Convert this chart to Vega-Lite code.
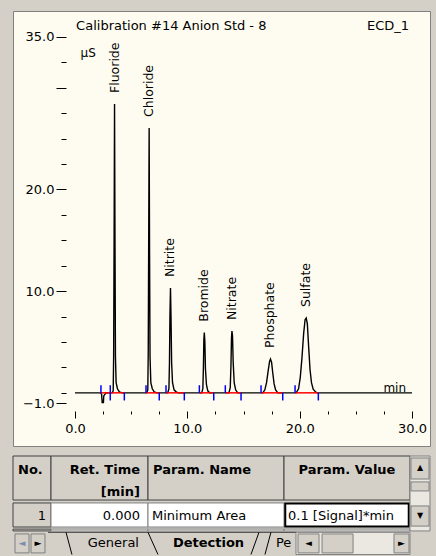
{
  "$schema": "https://vega.github.io/schema/vega-lite/v6.json",
  "background": "#d4d0c8",
  "padding": {"left": 12, "top": 10, "right": 7, "bottom": 3},
  "autosize": {"type": "pad"},
  "spacing": 2,
  "config": {
    "view": {"stroke": null},
    "font": "DejaVu Sans",
    "text": {"font": "DejaVu Sans", "color": "#000000"}
  },
  "datasets": {
    "trace": [
      {"t": 0, "s": 0}, {"t": 2.30, "s": 0}, {"t": 2.37, "s": -0.15}, {"t": 2.42, "s": -0.95}, {"t": 2.53, "s": -0.95}, {"t": 2.56, "s": -0.3}, {"t": 2.66, "s": -0.15}, {"t": 2.78, "s": 0},
      {"t": 3.30, "s": 0}, {"t": 3.40, "s": 0.2}, {"t": 3.44, "s": 3.6}, {"t": 3.48, "s": 15}, {"t": 3.52, "s": 28.41}, {"t": 3.56, "s": 15}, {"t": 3.60, "s": 3.6}, {"t": 3.66, "s": 1.0}, {"t": 3.78, "s": 0.4}, {"t": 3.95, "s": 0.1}, {"t": 4.20, "s": 0},
      {"t": 6.38, "s": 0}, {"t": 6.48, "s": 0.3}, {"t": 6.52, "s": 4}, {"t": 6.56, "s": 15}, {"t": 6.60, "s": 26.05}, {"t": 6.64, "s": 13}, {"t": 6.68, "s": 3.5}, {"t": 6.75, "s": 1.0}, {"t": 6.88, "s": 0.4}, {"t": 7.05, "s": 0.1}, {"t": 7.30, "s": 0},
      {"t": 8.25, "s": 0}, {"t": 8.36, "s": 0.4}, {"t": 8.41, "s": 3}, {"t": 8.45, "s": 7.5}, {"t": 8.50, "s": 10.31}, {"t": 8.55, "s": 7.2}, {"t": 8.60, "s": 3}, {"t": 8.68, "s": 1.0}, {"t": 8.82, "s": 0.3}, {"t": 9.00, "s": 0.1}, {"t": 9.20, "s": 0},
      {"t": 11.28, "s": 0}, {"t": 11.38, "s": 0.4}, {"t": 11.43, "s": 2.5}, {"t": 11.47, "s": 5.2}, {"t": 11.51, "s": 5.92}, {"t": 11.56, "s": 5.0}, {"t": 11.61, "s": 2.4}, {"t": 11.70, "s": 0.8}, {"t": 11.82, "s": 0.2}, {"t": 11.98, "s": 0},
      {"t": 13.70, "s": 0}, {"t": 13.82, "s": 0.5}, {"t": 13.88, "s": 2.6}, {"t": 13.93, "s": 5.4}, {"t": 13.97, "s": 6.08}, {"t": 14.02, "s": 5.6}, {"t": 14.08, "s": 3.0}, {"t": 14.17, "s": 1.0}, {"t": 14.30, "s": 0.3}, {"t": 14.48, "s": 0},
      {"t": 16.72, "s": 0}, {"t": 16.90, "s": 0.3}, {"t": 17.05, "s": 1.0}, {"t": 17.20, "s": 2.2}, {"t": 17.32, "s": 3.1}, {"t": 17.40, "s": 3.33}, {"t": 17.50, "s": 3.0}, {"t": 17.60, "s": 2.0}, {"t": 17.72, "s": 0.9}, {"t": 17.85, "s": 0.3}, {"t": 18.05, "s": 0},
      {"t": 19.68, "s": 0}, {"t": 19.90, "s": 0.4}, {"t": 20.05, "s": 1.5}, {"t": 20.20, "s": 3.4}, {"t": 20.35, "s": 5.8}, {"t": 20.48, "s": 7.2}, {"t": 20.58, "s": 7.36}, {"t": 20.68, "s": 6.8}, {"t": 20.80, "s": 4.5}, {"t": 20.92, "s": 2.3}, {"t": 21.05, "s": 1.0}, {"t": 21.20, "s": 0.35}, {"t": 21.40, "s": 0.1}, {"t": 21.55, "s": 0},
      {"t": 30, "s": 0}
    ],
    "peaks": [
      {"peak": "Fluoride", "rt": 3.52, "height": 28.41},
      {"peak": "Chloride", "rt": 6.60, "height": 26.05},
      {"peak": "Nitrite", "rt": 8.50, "height": 10.31},
      {"peak": "Bromide", "rt": 11.51, "height": 5.92},
      {"peak": "Nitrate", "rt": 13.97, "height": 6.08},
      {"peak": "Phosphate", "rt": 17.40, "height": 3.33},
      {"peak": "Sulfate", "rt": 20.58, "height": 7.36}
    ],
    "windows": [
      {"start": 2.31, "end": 3.14},
      {"start": 3.14, "end": 4.39},
      {"start": 6.32, "end": 7.50},
      {"start": 8.10, "end": 9.73},
      {"start": 11.07, "end": 12.35},
      {"start": 13.38, "end": 14.78},
      {"start": 16.56, "end": 18.49},
      {"start": 19.59, "end": 21.66}
    ]
  },
  "vconcat": [
    {
      "width": 417,
      "height": 435,
      "view": {"fill": "#fefcf0", "stroke": "#808080", "strokeWidth": 1},
      "resolve": {"axis": {"x": "independent", "y": "independent"}},
      "layer": [
        {
          "mark": {"type": "rect", "fillOpacity": 0, "stroke": "#a09c94", "strokeWidth": 2},
          "encoding": {"x": {"datum": -0.178, "axis": null}, "x2": {"datum": 30}, "y": {"datum": -1, "axis": null}, "y2": {"datum": 35}}
        },
        {
          "mark": {"type": "rule", "color": "#404040", "strokeWidth": 1.5},
          "encoding": {"x": {"datum": -0.178, "axis": null}, "y": {"datum": -1, "axis": null}, "y2": {"datum": 35}}
        },
        {
          "mark": {"type": "rule", "color": "#404040", "strokeWidth": 1.5},
          "encoding": {"x": {"datum": -0.178, "axis": null}, "x2": {"datum": 30}, "y": {"datum": 35, "axis": null}}
        },
        {
          "data": {"name": "trace"},
          "mark": {"type": "line", "color": "#000000", "strokeWidth": 1.4},
          "encoding": {
            "x": {
              "field": "t", "type": "quantitative",
              "scale": {"domain": [-5.519, 31.6], "nice": false, "zero": false},
              "axis": {
                "orient": "bottom", "offset": -35, "values": [0, 10, 20, 30], "format": ".1f",
                "tickSize": 7, "tickColor": "#000000", "domain": false, "grid": false,
                "labelColor": "#000000", "labelFont": "DejaVu Sans", "labelFontSize": 13, "labelPadding": 4,
                "labelFlush": false, "labelOverlap": false, "labelBound": false, "title": null
              }
            },
            "y": {
              "field": "s", "type": "quantitative",
              "scale": {"domain": [-5.229, 37.557], "nice": false, "zero": false},
              "axis": {
                "orient": "left", "offset": -53, "values": [-1, 10, 20, 30, 35],
                "labelExpr": "datum.value == 30 ? '' : format(datum.value, '.1f')",
                "tickSize": 10, "tickColor": "#000000", "domain": false, "grid": false,
                "labelColor": "#000000", "labelFont": "DejaVu Sans", "labelFontSize": 13, "labelPadding": 2,
                "labelFlush": false, "labelOverlap": false, "labelBound": false, "title": null
              }
            }
          }
        },
        {
          "data": {"name": "windows"},
          "mark": {"type": "rule", "color": "#ff0000", "strokeWidth": 1.5},
          "encoding": {
            "x": {
              "field": "start", "type": "quantitative",
              "axis": {
                "orient": "bottom", "offset": -35, "values": [2.5, 5, 7.5, 12.5, 15, 17.5, 22.5, 25, 27.5],
                "tickSize": 3, "tickColor": "#000000", "labels": false, "domain": false, "grid": false, "title": null
              }
            },
            "x2": {"field": "end"},
            "y": {
              "datum": 0,
              "axis": {
                "orient": "left", "offset": -53, "values": [0, 2.5, 5, 7.5, 12.5, 15, 17.5, 22.5, 25, 27.5, 32.5],
                "tickSize": 5, "tickColor": "#000000", "labels": false, "domain": false, "grid": false, "title": null
              }
            }
          }
        },
        {
          "data": {"name": "windows"},
          "mark": {"type": "rule", "color": "#0000ff", "strokeWidth": 1.5},
          "encoding": {"x": {"field": "start", "type": "quantitative", "axis": null}, "y": {"datum": 0, "axis": null}, "y2": {"datum": 0.75}}
        },
        {
          "data": {"name": "windows"},
          "mark": {"type": "rule", "color": "#0000ff", "strokeWidth": 1.5},
          "encoding": {"x": {"field": "end", "type": "quantitative", "axis": null}, "y": {"datum": 0, "axis": null}, "y2": {"datum": -0.75}}
        },
        {
          "data": {"name": "peaks"},
          "mark": {"type": "text", "angle": 270, "align": "left", "baseline": "middle", "dx": 11, "fontSize": 12.5, "color": "#000000"},
          "encoding": {
            "x": {"field": "rt", "type": "quantitative", "axis": null},
            "y": {"field": "height", "type": "quantitative", "axis": null},
            "text": {"field": "peak"}
          }
        },
        {
          "data": {"values": [{"label": "Calibration #14  Anion Std - 8"}]},
          "mark": {"type": "text", "align": "left", "baseline": "middle", "fontSize": 13, "color": "#000000"},
          "encoding": {"x": {"datum": 0.1, "axis": null}, "y": {"datum": 36.08, "axis": null}, "text": {"field": "label"}}
        },
        {
          "data": {"values": [{"label": "ECD_1"}]},
          "mark": {"type": "text", "align": "right", "baseline": "middle", "fontSize": 13, "color": "#000000"},
          "encoding": {"x": {"datum": 29.73, "axis": null}, "y": {"datum": 36.08, "axis": null}, "text": {"field": "label"}}
        },
        {
          "data": {"values": [{"label": "µS"}]},
          "mark": {"type": "text", "align": "left", "baseline": "middle", "fontSize": 12, "color": "#000000"},
          "encoding": {"x": {"datum": 0.5, "axis": null}, "y": {"datum": 33.43, "axis": null}, "text": {"field": "label"}}
        },
        {
          "data": {"values": [{"label": "min"}]},
          "mark": {"type": "text", "align": "right", "baseline": "middle", "fontSize": 12, "color": "#000000"},
          "encoding": {"x": {"datum": 29.47, "axis": null}, "y": {"datum": 0.47, "axis": null}, "text": {"field": "label"}}
        },
        {
          "mark": {"type": "rule", "color": "#000000", "strokeWidth": 1},
          "encoding": {"x": {"datum": -0.801, "axis": null}, "y": {"datum": -1, "axis": null}, "y2": {"datum": 35}}
        },
        {
          "mark": {"type": "rule", "color": "#000000", "strokeWidth": 1},
          "encoding": {"x": {"datum": 0, "axis": null}, "x2": {"datum": 30}, "y": {"datum": -1.787, "axis": null}}
        }
      ]
    },
    {
      "bounds": "flush",
      "spacing": 0,
      "hconcat": [
        {
          "width": 38, "height": 106,
          "data": {"values": [{"head": "No.", "val": "1", "l": "◄", "r": "►"}]},
          "layer": [
            {"mark": {"type": "rect", "fill": "#d4d0c8", "stroke": "#404040", "strokeWidth": 1},
             "encoding": {"x": {"datum": 0, "scale": {"domain": [0, 1], "nice": false, "zero": false}, "axis": null}, "x2": {"datum": 1},
                          "y": {"datum": 0, "scale": {"domain": [-0.303, 4.28], "reverse": true, "nice": false, "zero": false}, "axis": null}, "y2": {"datum": 1.903}}},
            {"mark": {"type": "rect", "fill": "#d4d0c8", "stroke": "#404040", "strokeWidth": 1},
             "encoding": {"x": {"datum": 0, "axis": null}, "x2": {"datum": 1}, "y": {"datum": 2.03, "axis": null}, "y2": {"datum": 3.07}}},
            {"mark": {"type": "rect", "fill": "#d4d0c8", "stroke": "#404040", "strokeWidth": 1},
             "encoding": {"x": {"datum": 0, "axis": null}, "x2": {"datum": 1}, "y": {"datum": 3.16, "axis": null}, "y2": {"datum": 3.24}}},
            {"mark": {"type": "rect", "fill": "#d4d0c8", "stroke": "#808080", "strokeWidth": 1},
             "encoding": {"x": {"datum": 0.053, "axis": null}, "x2": {"datum": 0.421}, "y": {"datum": 3.37, "axis": null}, "y2": {"datum": 4.19}}},
            {"mark": {"type": "rect", "fill": "#d4d0c8", "stroke": "#808080", "strokeWidth": 1},
             "encoding": {"x": {"datum": 0.474, "axis": null}, "x2": {"datum": 0.842}, "y": {"datum": 3.37, "axis": null}, "y2": {"datum": 4.19}}},
            {"mark": {"type": "rule", "color": "#404040", "strokeWidth": 1},
             "encoding": {"x": {"datum": 0.921, "axis": null}, "x2": {"datum": 1}, "y": {"datum": 3.3, "axis": null}}},
            {"mark": {"type": "text", "align": "left", "baseline": "middle", "dx": 5, "fontSize": 13, "fontWeight": "bold", "color": "#000000"},
             "encoding": {"x": {"datum": 0, "axis": null}, "y": {"datum": 0.6, "axis": null}, "text": {"field": "head"}}},
            {"mark": {"type": "text", "align": "right", "baseline": "middle", "dx": -5, "fontSize": 13, "color": "#000000"},
             "encoding": {"x": {"datum": 1, "axis": null}, "y": {"datum": 2.58, "axis": null}, "text": {"field": "val"}}},
            {"mark": {"type": "text", "align": "center", "baseline": "middle", "fontSize": 9, "color": "#7b8cb0"},
             "encoding": {"x": {"datum": 0.237, "axis": null}, "y": {"datum": 3.78, "axis": null}, "text": {"field": "l"}}},
            {"mark": {"type": "text", "align": "center", "baseline": "middle", "fontSize": 9, "color": "#000000"},
             "encoding": {"x": {"datum": 0.658, "axis": null}, "y": {"datum": 3.78, "axis": null}, "text": {"field": "r"}}}
          ]
        },
        {
          "width": 97, "height": 106,
          "data": {"values": [{"h1": "Ret. Time", "h2": "[min]", "val": "0.000", "tab": "General"}]},
          "layer": [
            {"mark": {"type": "rect", "fill": "#d4d0c8", "stroke": "#404040", "strokeWidth": 1},
             "encoding": {"x": {"datum": 0, "scale": {"domain": [0, 1], "nice": false, "zero": false}, "axis": null}, "x2": {"datum": 1},
                          "y": {"datum": 0, "scale": {"domain": [-0.303, 4.28], "reverse": true, "nice": false, "zero": false}, "axis": null}, "y2": {"datum": 1.903}}},
            {"mark": {"type": "rect", "fill": "#ffffff", "stroke": "#808080", "strokeWidth": 1},
             "encoding": {"x": {"datum": 0, "axis": null}, "x2": {"datum": 1}, "y": {"datum": 2.03, "axis": null}, "y2": {"datum": 3.07}}},
            {"mark": {"type": "rect", "fill": "#ffffff", "stroke": "#808080", "strokeWidth": 1},
             "encoding": {"x": {"datum": 0, "axis": null}, "x2": {"datum": 1}, "y": {"datum": 3.16, "axis": null}, "y2": {"datum": 3.24}}},
            {"mark": {"type": "rule", "color": "#404040", "strokeWidth": 1},
             "encoding": {"x": {"datum": 0, "axis": null}, "x2": {"datum": 1}, "y": {"datum": 3.3, "axis": null}}},
            {"mark": {"type": "rule", "color": "#000000", "strokeWidth": 1},
             "encoding": {"x": {"datum": 0.155, "axis": null}, "x2": {"datum": 0.216}, "y": {"datum": 3.3, "axis": null}, "y2": {"datum": 4.26}}},
            {"mark": {"type": "text", "align": "right", "baseline": "middle", "dx": -8, "fontSize": 13, "fontWeight": "bold", "color": "#000000"},
             "encoding": {"x": {"datum": 1, "axis": null}, "y": {"datum": 0.6, "axis": null}, "text": {"field": "h1"}}},
            {"mark": {"type": "text", "align": "right", "baseline": "middle", "dx": -8, "fontSize": 13, "fontWeight": "bold", "color": "#000000"},
             "encoding": {"x": {"datum": 1, "axis": null}, "y": {"datum": 1.55, "axis": null}, "text": {"field": "h2"}}},
            {"mark": {"type": "text", "align": "right", "baseline": "middle", "dx": -8, "fontSize": 13, "color": "#000000"},
             "encoding": {"x": {"datum": 1, "axis": null}, "y": {"datum": 2.58, "axis": null}, "text": {"field": "val"}}},
            {"mark": {"type": "text", "align": "right", "baseline": "middle", "fontSize": 13, "color": "#000000"},
             "encoding": {"x": {"datum": 0.907, "axis": null}, "y": {"datum": 3.75, "axis": null}, "text": {"field": "tab"}}}
          ]
        },
        {
          "width": 136, "height": 106,
          "data": {"values": [{"h1": "Param. Name", "val": "Minimum Area", "tab": "Detection", "tab2": "Pe"}]},
          "layer": [
            {"mark": {"type": "rect", "fill": "#d4d0c8", "stroke": "#404040", "strokeWidth": 1},
             "encoding": {"x": {"datum": 0, "scale": {"domain": [0, 1], "nice": false, "zero": false}, "axis": null}, "x2": {"datum": 1},
                          "y": {"datum": 0, "scale": {"domain": [-0.303, 4.28], "reverse": true, "nice": false, "zero": false}, "axis": null}, "y2": {"datum": 1.903}}},
            {"mark": {"type": "rect", "fill": "#ffffff", "stroke": "#808080", "strokeWidth": 1},
             "encoding": {"x": {"datum": 0, "axis": null}, "x2": {"datum": 1}, "y": {"datum": 2.03, "axis": null}, "y2": {"datum": 3.07}}},
            {"mark": {"type": "rect", "fill": "#ffffff", "stroke": "#808080", "strokeWidth": 1},
             "encoding": {"x": {"datum": 0, "axis": null}, "x2": {"datum": 1}, "y": {"datum": 3.16, "axis": null}, "y2": {"datum": 3.24}}},
            {"mark": {"type": "rule", "color": "#404040", "strokeWidth": 1},
             "encoding": {"x": {"datum": 0, "axis": null}, "x2": {"datum": 1}, "y": {"datum": 3.3, "axis": null}}},
            {"mark": {"type": "rule", "color": "#000000", "strokeWidth": 1},
             "encoding": {"x": {"datum": 0, "axis": null}, "x2": {"datum": 0.0735}, "y": {"datum": 3.3, "axis": null}, "y2": {"datum": 4.26}}},
            {"mark": {"type": "rule", "color": "#000000", "strokeWidth": 1},
             "encoding": {"x": {"datum": 0.816, "axis": null}, "x2": {"datum": 0.757}, "y": {"datum": 3.3, "axis": null}, "y2": {"datum": 4.26}}},
            {"mark": {"type": "rule", "color": "#000000", "strokeWidth": 1},
             "encoding": {"x": {"datum": 0.904, "axis": null}, "x2": {"datum": 0.86}, "y": {"datum": 3.3, "axis": null}, "y2": {"datum": 4.26}}},
            {"mark": {"type": "text", "align": "left", "baseline": "middle", "dx": 5, "fontSize": 13, "fontWeight": "bold", "color": "#000000"},
             "encoding": {"x": {"datum": 0, "axis": null}, "y": {"datum": 0.6, "axis": null}, "text": {"field": "h1"}}},
            {"mark": {"type": "text", "align": "left", "baseline": "middle", "dx": 4, "fontSize": 13, "color": "#000000"},
             "encoding": {"x": {"datum": 0, "axis": null}, "y": {"datum": 2.58, "axis": null}, "text": {"field": "val"}}},
            {"mark": {"type": "text", "align": "center", "baseline": "middle", "fontSize": 13, "fontWeight": "bold", "color": "#000000"},
             "encoding": {"x": {"datum": 0.445, "axis": null}, "y": {"datum": 3.75, "axis": null}, "text": {"field": "tab"}}},
            {"mark": {"type": "text", "align": "left", "baseline": "middle", "fontSize": 13, "color": "#000000"},
             "encoding": {"x": {"datum": 0.941, "axis": null}, "y": {"datum": 3.75, "axis": null}, "text": {"field": "tab2"}}}
          ]
        },
        {
          "width": 126, "height": 106,
          "data": {"values": [{"h1": "Param. Value", "val": "0.1 [Signal]*min", "l": "◄", "r": "►"}]},
          "layer": [
            {"mark": {"type": "rect", "fill": "#d4d0c8", "stroke": "#404040", "strokeWidth": 1},
             "encoding": {"x": {"datum": 0, "scale": {"domain": [0, 1], "nice": false, "zero": false}, "axis": null}, "x2": {"datum": 1},
                          "y": {"datum": 0, "scale": {"domain": [-0.303, 4.28], "reverse": true, "nice": false, "zero": false}, "axis": null}, "y2": {"datum": 1.903}}},
            {"mark": {"type": "rect", "fill": "#ffffff", "stroke": "#000000", "strokeWidth": 2},
             "encoding": {"x": {"datum": 0.01, "axis": null}, "x2": {"datum": 0.99}, "y": {"datum": 2.05, "axis": null}, "y2": {"datum": 3.05}}},
            {"mark": {"type": "rect", "fill": "#ffffff", "stroke": "#808080", "strokeWidth": 1},
             "encoding": {"x": {"datum": 0, "axis": null}, "x2": {"datum": 1}, "y": {"datum": 3.16, "axis": null}, "y2": {"datum": 3.24}}},
            {"mark": {"type": "rule", "color": "#404040", "strokeWidth": 1},
             "encoding": {"x": {"datum": 0, "axis": null}, "x2": {"datum": 0.095}, "y": {"datum": 3.3, "axis": null}}},
            {"mark": {"type": "rect", "fill": "#ebe8e2", "stroke": "#808080", "strokeWidth": 1},
             "encoding": {"x": {"datum": 0.095, "axis": null}, "x2": {"datum": 1}, "y": {"datum": 3.3, "axis": null}, "y2": {"datum": 4.26}}},
            {"mark": {"type": "rect", "fill": "#d4d0c8", "stroke": "#808080", "strokeWidth": 1},
             "encoding": {"x": {"datum": 0.111, "axis": null}, "x2": {"datum": 0.278}, "y": {"datum": 3.37, "axis": null}, "y2": {"datum": 4.19}}},
            {"mark": {"type": "rect", "fill": "#d4d0c8", "stroke": "#808080", "strokeWidth": 1},
             "encoding": {"x": {"datum": 0.302, "axis": null}, "x2": {"datum": 0.548}, "y": {"datum": 3.37, "axis": null}, "y2": {"datum": 4.19}}},
            {"mark": {"type": "rect", "fill": "#d4d0c8", "stroke": "#808080", "strokeWidth": 1},
             "encoding": {"x": {"datum": 0.873, "axis": null}, "x2": {"datum": 0.992}, "y": {"datum": 3.37, "axis": null}, "y2": {"datum": 4.19}}},
            {"mark": {"type": "text", "align": "center", "baseline": "middle", "fontSize": 13, "fontWeight": "bold", "color": "#000000"},
             "encoding": {"x": {"datum": 0.5, "axis": null}, "y": {"datum": 0.6, "axis": null}, "text": {"field": "h1"}}},
            {"mark": {"type": "text", "align": "left", "baseline": "middle", "dx": 4, "fontSize": 13, "color": "#000000"},
             "encoding": {"x": {"datum": 0, "axis": null}, "y": {"datum": 2.58, "axis": null}, "text": {"field": "val"}}},
            {"mark": {"type": "text", "align": "center", "baseline": "middle", "fontSize": 9, "color": "#000000"},
             "encoding": {"x": {"datum": 0.194, "axis": null}, "y": {"datum": 3.78, "axis": null}, "text": {"field": "l"}}},
            {"mark": {"type": "text", "align": "center", "baseline": "middle", "fontSize": 9, "color": "#000000"},
             "encoding": {"x": {"datum": 0.933, "axis": null}, "y": {"datum": 3.78, "axis": null}, "text": {"field": "r"}}}
          ]
        },
        {
          "width": 20, "height": 106,
          "data": {"values": [{"up": "▲", "down": "▼"}]},
          "layer": [
            {"mark": {"type": "rect", "fill": "#ebe8e2", "stroke": "#808080", "strokeWidth": 1},
             "encoding": {"x": {"datum": 0, "scale": {"domain": [0, 1], "nice": false, "zero": false}, "axis": null}, "x2": {"datum": 1},
                          "y": {"datum": 0, "scale": {"domain": [-0.303, 4.28], "reverse": true, "nice": false, "zero": false}, "axis": null}, "y2": {"datum": 3.24}}},
            {"mark": {"type": "rect", "fill": "#d4d0c8", "stroke": "#808080", "strokeWidth": 1},
             "encoding": {"x": {"datum": 0.05, "axis": null}, "x2": {"datum": 0.95}, "y": {"datum": 0.086, "axis": null}, "y2": {"datum": 0.995}}},
            {"mark": {"type": "rect", "fill": "#d4d0c8", "stroke": "#808080", "strokeWidth": 1},
             "encoding": {"x": {"datum": 0.05, "axis": null}, "x2": {"datum": 0.95}, "y": {"datum": 1.12, "axis": null}, "y2": {"datum": 1.51}}},
            {"mark": {"type": "rect", "fill": "#d4d0c8", "stroke": "#808080", "strokeWidth": 1},
             "encoding": {"x": {"datum": 0.05, "axis": null}, "x2": {"datum": 0.95}, "y": {"datum": 2.16, "axis": null}, "y2": {"datum": 3.03}}},
            {"mark": {"type": "text", "align": "center", "baseline": "middle", "fontSize": 8, "color": "#000000"},
             "encoding": {"x": {"datum": 0.5, "axis": null}, "y": {"datum": 0.54, "axis": null}, "text": {"field": "up"}}},
            {"mark": {"type": "text", "align": "center", "baseline": "middle", "fontSize": 8, "color": "#000000"},
             "encoding": {"x": {"datum": 0.5, "axis": null}, "y": {"datum": 2.6, "axis": null}, "text": {"field": "down"}}}
          ]
        }
      ]
    }
  ]
}
